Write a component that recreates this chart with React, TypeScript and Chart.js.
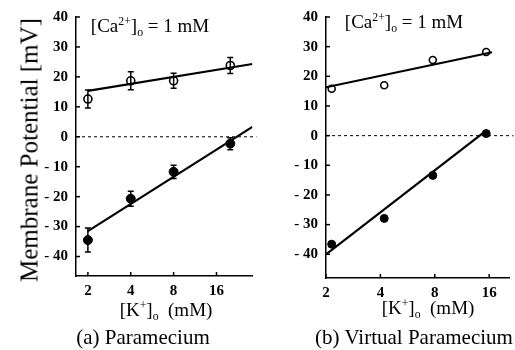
import React, { useEffect, useRef } from 'react';
import { Chart, registerables } from 'chart.js';
Chart.register(...registerables);

// shared ticks
const kTicks = [2, 4, 8, 16];
const yTicks = [-40, -30, -20, -10, 0, 10, 20, 30, 40];

// (a) Paramecium
const aK = [2, 4, 8, 20];
const aOpen = [12.6, 18.7, 18.7, 23.8];
const aOpenErr = [3, 3, 2.5, 2.7];
const aFilled = [-34.5, -20.7, -11.7, -2.3];
const aFilledErr = [4, 2.5, 2.2, 2];
const aOpenFitK = [2, 28.6];
const aOpenFitV = [15.3, 24.3];
const aFilledFitK = [2, 28.6];
const aFilledFitV = [-31.5, 3.3];

// (b) Virtual Paramecium
const bK = [2.15, 4.2, 7.8, 15.4];
const bOpen = [15.8, 17, 25.5, 28.2];
const bFilled = [-36.6, -27.9, -13.4, 0.7];
const bOpenFitK = [2, 16.6];
const bOpenFitV = [16.3, 28.1];
const bFilledFitK = [2, 15.2];
const bFilledFitV = [-40, 1.4];

const FONT = "'Liberation Serif', 'DejaVu Serif', serif";

const pts = (xs: number[], ys: number[]) => xs.map((x, i) => ({ x, y: ys[i] }));

const decoPlugin = {
  id: 'deco',
  afterDatasetsDraw(chart: any) {
    const { ctx, chartArea, scales } = chart;
    const xs = scales.x;
    const ys = scales.y;
    ctx.save();
    // zero dashed line
    const y0 = ys.getPixelForValue(0);
    ctx.strokeStyle = '#000';
    ctx.lineWidth = 1;
    ctx.setLineDash([3, 3]);
    ctx.beginPath();
    ctx.moveTo(chartArea.left, y0);
    ctx.lineTo(chartArea.right + 4, y0);
    ctx.stroke();
    ctx.setLineDash([]);
    // inward ticks
    ctx.lineWidth = 1.5;
    yTicks.forEach((v) => {
      const p = ys.getPixelForValue(v);
      ctx.beginPath();
      ctx.moveTo(chartArea.left, p);
      ctx.lineTo(chartArea.left + 4, p);
      ctx.stroke();
    });
    kTicks.forEach((v) => {
      const p = xs.getPixelForValue(v);
      ctx.beginPath();
      ctx.moveTo(p, chartArea.bottom);
      ctx.lineTo(p, chartArea.bottom - 4);
      ctx.stroke();
    });
    // error bars
    const errs = chart.options.plugins.deco?.errors || [];
    ctx.lineWidth = 1.5;
    errs.forEach((e: any) => {
      e.k.forEach((k: number, i: number) => {
        const px = xs.getPixelForValue(k);
        const hi = ys.getPixelForValue(e.v[i] + e.err[i]);
        const lo = ys.getPixelForValue(e.v[i] - e.err[i]);
        ctx.beginPath();
        ctx.moveTo(px, hi);
        ctx.lineTo(px, lo);
        ctx.moveTo(px - 3, hi);
        ctx.lineTo(px + 3, hi);
        ctx.moveTo(px - 3, lo);
        ctx.lineTo(px + 3, lo);
        ctx.stroke();
      });
    });
    ctx.restore();
  },
};

type PanelProps = {
  width: number;
  height: number;
  yWidth: number;
  xHeight: number;
  padTop: number;
  padRight: number;
  xMin: number;
  xMax: number;
  yMin: number;
  datasets: any[];
  errors: any[];
};

function Panel(p: PanelProps) {
  const ref = useRef<HTMLCanvasElement>(null);
  useEffect(() => {
    if (!ref.current) return;
    const chart = new Chart(ref.current, {
      type: 'scatter',
      data: { datasets: p.datasets },
      plugins: [decoPlugin],
      options: {
        animation: false,
        responsive: false,
        layout: { padding: { left: 0, top: p.padTop, right: p.padRight, bottom: 0 } },
        plugins: {
          legend: { display: false },
          tooltip: { enabled: false },
          // @ts-ignore
          deco: { errors: p.errors },
        },
        scales: {
          x: {
            type: 'logarithmic',
            min: p.xMin,
            max: p.xMax,
            afterBuildTicks: (s: any) => {
              s.ticks = kTicks.map((v) => ({ value: v }));
            },
            afterFit: (s: any) => {
              s.height = p.xHeight;
            },
            ticks: {
              autoSkip: false,
              maxRotation: 0,
              padding: 6,
              color: '#000',
              font: { family: FONT, size: 15, weight: 'bold' },
              callback: (v: any) => String(v),
            },
            grid: { display: true, drawOnChartArea: false, drawTicks: false },
            border: { display: true, color: '#000', width: 1.5 },
          },
          y: {
            type: 'linear',
            min: p.yMin,
            max: 40,
            afterBuildTicks: (s: any) => {
              s.ticks = yTicks.map((v) => ({ value: v }));
            },
            afterFit: (s: any) => {
              s.width = p.yWidth;
            },
            ticks: {
              padding: 8,
              color: '#000',
              font: { family: FONT, size: 15, weight: 'bold' },
              callback: (v: any) => (v < 0 ? '- ' + Math.abs(v) : String(v)),
            },
            grid: { display: true, drawOnChartArea: false, drawTicks: false },
            border: { display: true, color: '#000', width: 1.5 },
          },
        },
      },
    } as any);
    return () => chart.destroy();
  }, []);
  return <canvas ref={ref} width={p.width} height={p.height} style={{ width: p.width, height: p.height, display: 'block' }} />;
}

const lineDs = (k: number[], v: number[]) => ({
  data: pts(k, v),
  showLine: true,
  borderColor: '#000',
  borderWidth: 2.2,
  pointRadius: 0,
  fill: false,
});
const openDs = (k: number[], v: number[], r: number) => ({
  data: pts(k, v),
  pointRadius: r,
  pointBackgroundColor: '#fff',
  pointBorderColor: '#000',
  pointBorderWidth: 1.6,
  showLine: false,
});
const filledDs = (k: number[], v: number[], r: number) => ({
  data: pts(k, v),
  pointRadius: r,
  pointBackgroundColor: '#000',
  pointBorderColor: '#000',
  pointBorderWidth: 1,
  showLine: false,
});

const small: React.CSSProperties = { fontSize: '0.62em' };

function Ca() {
  return (
    <span>
      [Ca<span style={{ ...small, verticalAlign: '0.55em' }}>2+</span>]
      <span style={{ ...small, verticalAlign: '-0.35em' }}>o</span> = 1 mM
    </span>
  );
}
function KLabel() {
  return (
    <span>
      [K<span style={{ ...small, verticalAlign: '0.55em' }}>+</span>]
      <span style={{ ...small, verticalAlign: '-0.35em' }}>o</span>&nbsp; (mM)
    </span>
  );
}

const abs = (left: number, top: number, size: number, extra: React.CSSProperties = {}): React.CSSProperties => ({
  position: 'absolute',
  left,
  top,
  fontSize: size,
  fontFamily: FONT,
  color: '#000',
  whiteSpace: 'nowrap',
  lineHeight: 1,
  transform: 'translate(-50%, -50%)',
  ...extra,
});

export default function App() {
  return (
    <div style={{ position: 'fixed', left: 0, top: 0, width: 515, height: 350, background: '#fff', overflow: 'hidden' }}>
      <div style={{ position: 'absolute', left: 0, top: 0 }}>
        <Panel
          width={258}
          height={300}
          yWidth={76}
          xHeight={24}
          padTop={12}
          padRight={5}
          xMin={1.65}
          xMax={28.6}
          yMin={-46.5}
          datasets={[
            lineDs(aOpenFitK, aOpenFitV),
            lineDs(aFilledFitK, aFilledFitV),
            openDs(aK, aOpen, 4),
            filledDs(aK, aFilled, 4.5),
          ]}
          errors={[
            { k: aK, v: aOpen, err: aOpenErr },
            { k: aK, v: aFilled, err: aFilledErr },
          ]}
        />
      </div>
      <div style={{ position: 'absolute', left: 258, top: 0 }}>
        <Panel
          width={257}
          height={300}
          yWidth={68}
          xHeight={22}
          padTop={16}
          padRight={0}
          xMin={2}
          xMax={20.7}
          yMin={-48}
          datasets={[
            lineDs(bOpenFitK, bOpenFitV),
            lineDs(bFilledFitK, bFilledFitV),
            openDs(bK, bOpen, 3.5),
            filledDs(bK, bFilled, 4),
          ]}
          errors={[]}
        />
      </div>
      <div style={abs(29, 150, 25, { transform: 'translate(-50%, -50%) rotate(-90deg)' })}>Membrane Potential [mV]</div>
      <div style={abs(150, 27, 19)}><Ca /></div>
      <div style={abs(404, 23, 19)}><Ca /></div>
      <div style={abs(166, 311, 19)}><KLabel /></div>
      <div style={abs(428, 309, 19)}><KLabel /></div>
      <div style={abs(143, 337, 21)}>(a) Paramecium</div>
      <div style={abs(414, 337, 21)}>(b) Virtual Paramecium</div>
    </div>
  );
}
